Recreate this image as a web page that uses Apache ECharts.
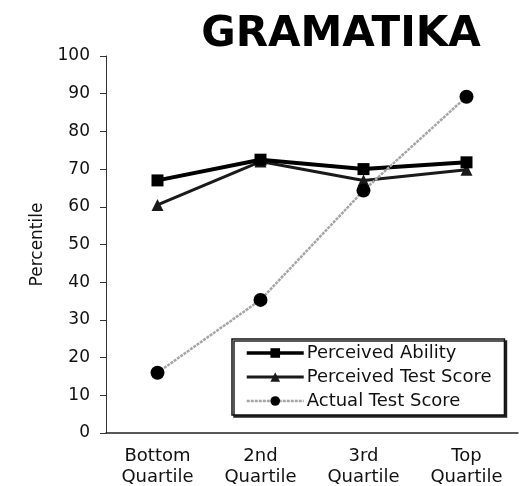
<!DOCTYPE html>
<html lang="en">
<head>
    <meta charset="UTF-8">
    <title>GRAMATIKA</title>
    <script src="https://cdn.jsdelivr.net/npm/echarts@6/dist/echarts.min.js"></script>
    <style>
        html, body { margin: 0; padding: 0; background: #fff; }
        #container { width: 522px; height: 486px; }
    </style>
</head>
<body>
<div id="container"></div>
<script>
    var categories = ["Bottom\nQuartile", "2nd\nQuartile", "3rd\nQuartile", "Top\nQuartile"];
    var seriesNames = ["Perceived Ability", "Perceived Test Score", "Actual Test Score"];
    var perceivedAbility = [67, 72.5, 70, 71.8];
    var perceivedTestScore = [60.5, 72, 67, 69.8];
    var actualTestScore = [16, 35.3, 64.3, 89.2];

    var font = "DejaVu Sans, sans-serif";
    var myChart = echarts.init(document.getElementById("container"));
    var option = {
        animation: false,
        title: {
            text: "GRAMATIKA",
            left: 336,
            top: 9,
            textAlign: "center",
            textStyle: { fontFamily: font, fontSize: 42, fontWeight: "bold", color: "#000" }
        },
        grid: { left: 106, right: 4, top: 56, bottom: 53, outerBoundsMode: "none", containLabel: false },
        legend: {
            orient: "vertical",
            left: 232,
            top: 339,
            padding: [5, 13, 5, 13],
            itemWidth: 57,
            itemHeight: 12,
            itemGap: 6,
            backgroundColor: "#fff",
            borderColor: "#111",
            borderWidth: 1.5,
            borderRadius: 0,
            shadowColor: "#222",
            shadowBlur: 0,
            shadowOffsetX: 2,
            shadowOffsetY: 2,
            textStyle: { fontFamily: font, fontSize: 18, color: "#111", padding: [0, 0, 0, -2] },
            data: [
                { name: seriesNames[0], lineStyle: { width: 3.5 } },
                { name: seriesNames[1], lineStyle: { width: 3 } },
                { name: seriesNames[2], lineStyle: { width: 2.5 } }
            ]
        },
        xAxis: {
            type: "category",
            data: categories,
            boundaryGap: true,
            axisLine: { lineStyle: { color: "#222", width: 1.5 } },
            axisTick: { length: 6, lineStyle: { color: "#333" } },
            axisLabel: { fontFamily: font, fontSize: 18, color: "#111", lineHeight: 21, margin: 13 }
        },
        yAxis: {
            type: "value",
            min: 0,
            max: 100,
            interval: 10,
            name: "Percentile",
            nameLocation: "middle",
            nameGap: 60,
            nameTextStyle: { fontFamily: font, fontSize: 17, color: "#111" },
            splitLine: { show: false },
            axisLine: { show: true, lineStyle: { color: "#333", width: 1 } },
            axisTick: { show: true, length: 6, lineStyle: { color: "#333" } },
            axisLabel: { fontFamily: font, fontSize: 17, color: "#111", margin: 16 }
        },
        series: [
            {
                name: seriesNames[0],
                type: "line",
                data: perceivedAbility,
                symbol: "rect",
                symbolSize: 12,
                z: 3,
                lineStyle: { color: "#000", width: 4 },
                itemStyle: { color: "#000" }
            },
            {
                name: seriesNames[1],
                type: "line",
                data: perceivedTestScore,
                symbol: "triangle",
                symbolSize: 12,
                z: 2,
                lineStyle: { color: "#1a1a1a", width: 3 },
                itemStyle: { color: "#1a1a1a" }
            },
            {
                name: seriesNames[2],
                type: "line",
                data: actualTestScore,
                symbol: "circle",
                symbolSize: 14,
                z: 4,
                lineStyle: { color: "#a5a5a5", width: 2.5, type: [3, 1] },
                itemStyle: { color: "#000" }
            }
        ]
    };
    myChart.setOption(option, true);
</script>
</body>
</html>
